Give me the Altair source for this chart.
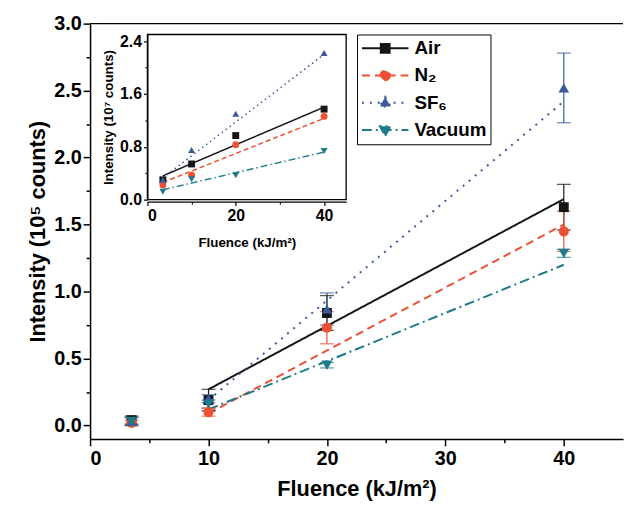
import altair as alt
import pandas as pd

FONT = "Liberation Sans"

# ---------------- data ----------------
series = ["Air", "N₂", "SF₆", "Vacuum"]
colors = ["#151515", "#ec5133", "#3b5a9a", "#1f7b8a"]

fluence = [3.5, 10, 20, 40]
air = [0.04, 0.19, 0.84, 1.63]
air_err = [0.03, 0.08, 0.13, 0.17]
n2 = [0.02, 0.10, 0.73, 1.45]
n2_err = [0.02, 0.03, 0.12, 0.15]
sf6 = [0.03, 0.20, 0.87, 2.52]
sf6_err = [0.03, 0.03, 0.12, 0.26]
vac = [0.03, 0.16, 0.45, 1.285]
vac_err = [0.03, 0.03, 0.02, 0.03]

fit_x = [10, 40]
air_fit = [0.27, 1.69]
n2_fit = [0.09, 1.50]
sf6_fit = [0.19, 2.42]
vac_fit = [0.12, 1.20]

inset_fluence = [3.5, 10, 20, 40]
air_in = [0.30, 0.54, 0.97, 1.37]
n2_in = [0.22, 0.37, 0.83, 1.26]
sf6_in = [0.30, 0.75, 1.30, 2.22]
vac_in = [0.12, 0.31, 0.37, 0.735]

inset_fit_x = [3.5, 40]
air_in_fit = [0.36, 1.40]
n2_in_fit = [0.26, 1.23]
sf6_in_fit = [0.33, 2.20]
vac_in_fit = [0.15, 0.72]

main_x_ticks = [0, 5, 10, 15, 20, 25, 30, 35, 40]
main_y_ticks = [0.0, 0.25, 0.5, 0.75, 1.0, 1.25, 1.5, 1.75, 2.0, 2.25, 2.5, 2.75, 3.0]
inset_x_ticks = [0, 10, 20, 30, 40]
inset_y_ticks = [0.0, 0.4, 0.8, 1.2, 1.6, 2.0, 2.4]
x_domain = [0, 45]
y_domain = [-0.1, 3.0]
inset_x_domain = [0, 45]
inset_y_domain = [0, 2.5]

# ---------------- tables ----------------
main_vals = [air, n2, sf6, vac]
main_errs = [air_err, n2_err, sf6_err, vac_err]
main_fits = [air_fit, n2_fit, sf6_fit, vac_fit]
in_vals = [air_in, n2_in, sf6_in, vac_in]
in_fits = [air_in_fit, n2_in_fit, sf6_in_fit, vac_in_fit]

pts = pd.DataFrame([
    dict(series=s, x=x, y=y, lo=y - e, hi=y + e)
    for s, ys, es in zip(series, main_vals, main_errs)
    for x, y, e in zip(fluence, ys, es)
])
fits = pd.DataFrame([
    dict(series=s, x=x, y=y)
    for s, ys in zip(series, main_fits)
    for x, y in zip(fit_x, ys)
])
ipts = pd.DataFrame([
    dict(series=s, x=x, y=y)
    for s, ys in zip(series, in_vals)
    for x, y in zip(inset_fluence, ys)
])
ifits = pd.DataFrame([
    dict(series=s, x=x, y=y)
    for s, ys in zip(series, in_fits)
    for x, y in zip(inset_fit_x, ys)
])
frame = pd.DataFrame({"x0": [inset_x_domain[0]], "x1": [inset_x_domain[1]],
                      "y0": [inset_y_domain[0]], "y1": [inset_y_domain[1]]})
top_border = pd.DataFrame({"x0": [x_domain[0]], "x1": [x_domain[1]], "y": [y_domain[1]]})
legend_df = pd.DataFrame({"series": series})

# ---------------- styling ----------------
TOTAL_W, TOTAL_H = 623, 494
H_PLOT = 418
inset_x_range = [58, 259]
inset_y_range = [178, 11]

shapes = ["square", "circle", "triangle-up", "triangle-down"]
dash_main = [[1, 0], [8, 5], [2, 6], [10, 4, 2, 4]]
dash_inset = [[1, 0], [5, 3], [1.5, 3.5], [7, 3, 1.5, 3]]

axis_common = dict(domainColor="black", tickColor="black", domainWidth=1.5, tickWidth=1.5,
                   labelColor="black", titleColor="black", labelFont=FONT, titleFont=FONT,
                   labelFontWeight="bold", titleFontWeight="bold", grid=False)

main_xaxis = alt.Axis(values=main_x_ticks, format="d",
                      labelExpr="datum.value % 10 == 0 ? datum.label : ''",
                      tickSize={"condition": {"test": "datum.value % 10 == 0", "value": 7}, "value": 4},
                      labelFontSize=20, titleFontSize=22, labelPadding=3, titlePadding=10,
                      title="Fluence (kJ/m²)", **axis_common)
main_yaxis = alt.Axis(values=main_y_ticks, format=".1f",
                      labelExpr="(datum.value * 2) % 1 == 0 ? datum.label : ''",
                      tickSize={"condition": {"test": "(datum.value * 2) % 1 == 0", "value": 7}, "value": 4},
                      labelFontSize=20, titleFontSize=22, labelPadding=2, titlePadding=4,
                      title="Intensity (10⁵ counts)", **axis_common)

inset_axis_common = dict(axis_common, domainWidth=1.2, tickWidth=1.2)
inset_xaxis = alt.Axis(values=inset_x_ticks, format="d", orient="bottom", offset=-(H_PLOT - inset_y_range[0]),
                       labelExpr="datum.value % 20 == 0 ? datum.label : ''",
                       tickSize={"condition": {"test": "datum.value % 20 == 0", "value": 4}, "value": 2.5},
                       labelFontSize=16, titleFontSize=13.5, labelPadding=2, titlePadding=12,
                       title="Fluence (kJ/m²)", zindex=1, **inset_axis_common)
inset_yaxis = alt.Axis(values=inset_y_ticks, format=".1f", orient="left", offset=-inset_x_range[0],
                       labelExpr="round(datum.value * 10) % 8 == 0 ? datum.label : ''",
                       tickSize={"condition": {"test": "round(datum.value * 10) % 8 == 0", "value": 4}, "value": 2.5},
                       labelFontSize=16, titleFontSize=13.5, labelPadding=2, titlePadding=4,
                       title="Intensity (10⁷ counts)", zindex=1, **inset_axis_common)

xs = alt.Scale(domain=x_domain, nice=False, zero=False)
ys = alt.Scale(domain=y_domain, nice=False, zero=False)
ixs = alt.Scale(domain=inset_x_domain, range=inset_x_range, nice=False, zero=False)
iys = alt.Scale(domain=inset_y_domain, range=inset_y_range, nice=False, zero=False)

def col(scale_range):
    return alt.Scale(domain=series, range=scale_range)

X = alt.X("x:Q", scale=xs, axis=main_xaxis)
Y = alt.Y("y:Q", scale=ys, axis=main_yaxis)
C = alt.Color("series:N", scale=col(colors), legend=None)

# ---------------- main chart ----------------
base = alt.Chart(pts)
m_border = alt.Chart(top_border).mark_rule(color="black", strokeWidth=1.5).encode(
    x=alt.X("x0:Q", scale=xs, axis=main_xaxis), x2="x1:Q",
    y=alt.Y("y:Q", scale=ys, axis=main_yaxis))
m_lines = alt.Chart(fits).mark_line(strokeWidth=2).encode(
    x=X, y=Y, color=C,
    strokeDash=alt.StrokeDash("series:N", scale=col(dash_main), legend=None))
m_rules = base.mark_rule(strokeWidth=1.2).encode(
    x=X, y=alt.Y("lo:Q", scale=ys, axis=main_yaxis), y2="hi:Q", color=C)
m_cap_lo = base.mark_tick(orient="horizontal", size=14, thickness=1.3).encode(
    x=X, y=alt.Y("lo:Q", scale=ys, axis=main_yaxis), color=C)
m_cap_hi = base.mark_tick(orient="horizontal", size=14, thickness=1.3).encode(
    x=X, y=alt.Y("hi:Q", scale=ys, axis=main_yaxis), color=C)
m_points = base.mark_point(filled=True, opacity=1).encode(
    x=X, y=Y, color=C,
    shape=alt.Shape("series:N", scale=col(shapes), legend=None),
    size=alt.Size("series:N", scale=col([100, 121, 170, 170]), legend=None))
main = alt.layer(m_border, m_lines, m_rules, m_cap_lo, m_cap_hi, m_points)

# ---------------- inset ----------------
IX = alt.X("x:Q", scale=ixs, axis=inset_xaxis)
IY = alt.Y("y:Q", scale=iys, axis=inset_yaxis)
i_frame = alt.Chart(frame).mark_rect(fill="white", stroke="black", strokeWidth=1.3).encode(
    x=alt.X("x0:Q", scale=ixs, axis=inset_xaxis), x2="x1:Q",
    y=alt.Y("y0:Q", scale=iys, axis=inset_yaxis), y2="y1:Q")
i_lines = alt.Chart(ifits).mark_line(strokeWidth=1.5).encode(
    x=IX, y=IY, color=C,
    strokeDash=alt.StrokeDash("series:N", scale=col(dash_inset), legend=None))
i_points = alt.Chart(ipts).mark_point(filled=True, opacity=1).encode(
    x=IX, y=IY, color=C,
    shape=alt.Shape("series:N", scale=col(shapes), legend=None),
    size=alt.Size("series:N", scale=col([49, 49, 64, 64]), legend=None))
inset = alt.layer(i_frame, i_lines, i_points)

# ---------------- legend ----------------
h = 0.19
legend_paths = [
    f"M-1,0L1,0M-{h},-{h}L{h},-{h}L{h},{h}L-{h},{h}Z",
    "M-1,0L1,0M0.2,0A0.2,0.2,0,1,1,-0.2,0A0.2,0.2,0,1,1,0.2,0Z",
    "M-1,0L1,0M0,-0.25L0.23,0.16L-0.23,0.16Z",
    "M-1,0L1,0M0,0.25L0.23,-0.16L-0.23,-0.16Z",
]
leg = alt.Legend(orient="none", legendX=270, legendY=11, title=None,
                 labelFont=FONT, labelFontSize=19, labelFontWeight="bold", labelColor="black",
                 strokeColor="black", fillColor="white", padding=4, rowPadding=7.5,
                 symbolSize=2209, symbolStrokeWidth=2, labelOffset=5, clipHeight=20)
legend_layer = alt.Chart(legend_df).transform_filter("false").mark_point(opacity=1, strokeWidth=2).encode(
    shape=alt.Shape("series:N", scale=col(legend_paths), legend=leg),
    fill=alt.Fill("series:N", scale=col(colors), legend=leg),
    stroke=alt.Stroke("series:N", scale=col(colors), legend=leg),
    strokeDash=alt.StrokeDash("series:N", scale=col(dash_main), legend=leg),
)

chart = alt.layer(main, inset, legend_layer).resolve_scale(
    x="independent", y="independent", color="independent", shape="independent",
    size="independent", strokeDash="independent", fill="independent", stroke="independent",
).properties(
    width=TOTAL_W, height=TOTAL_H, background="white",
    autosize=alt.AutoSizeParams(type="fit", contains="padding"),
    padding={"left": 19, "top": 3, "right": 0, "bottom": 0},
).configure_view(stroke=None)

chart.save("out.html", embed_options={"renderer": "svg", "actions": False})
